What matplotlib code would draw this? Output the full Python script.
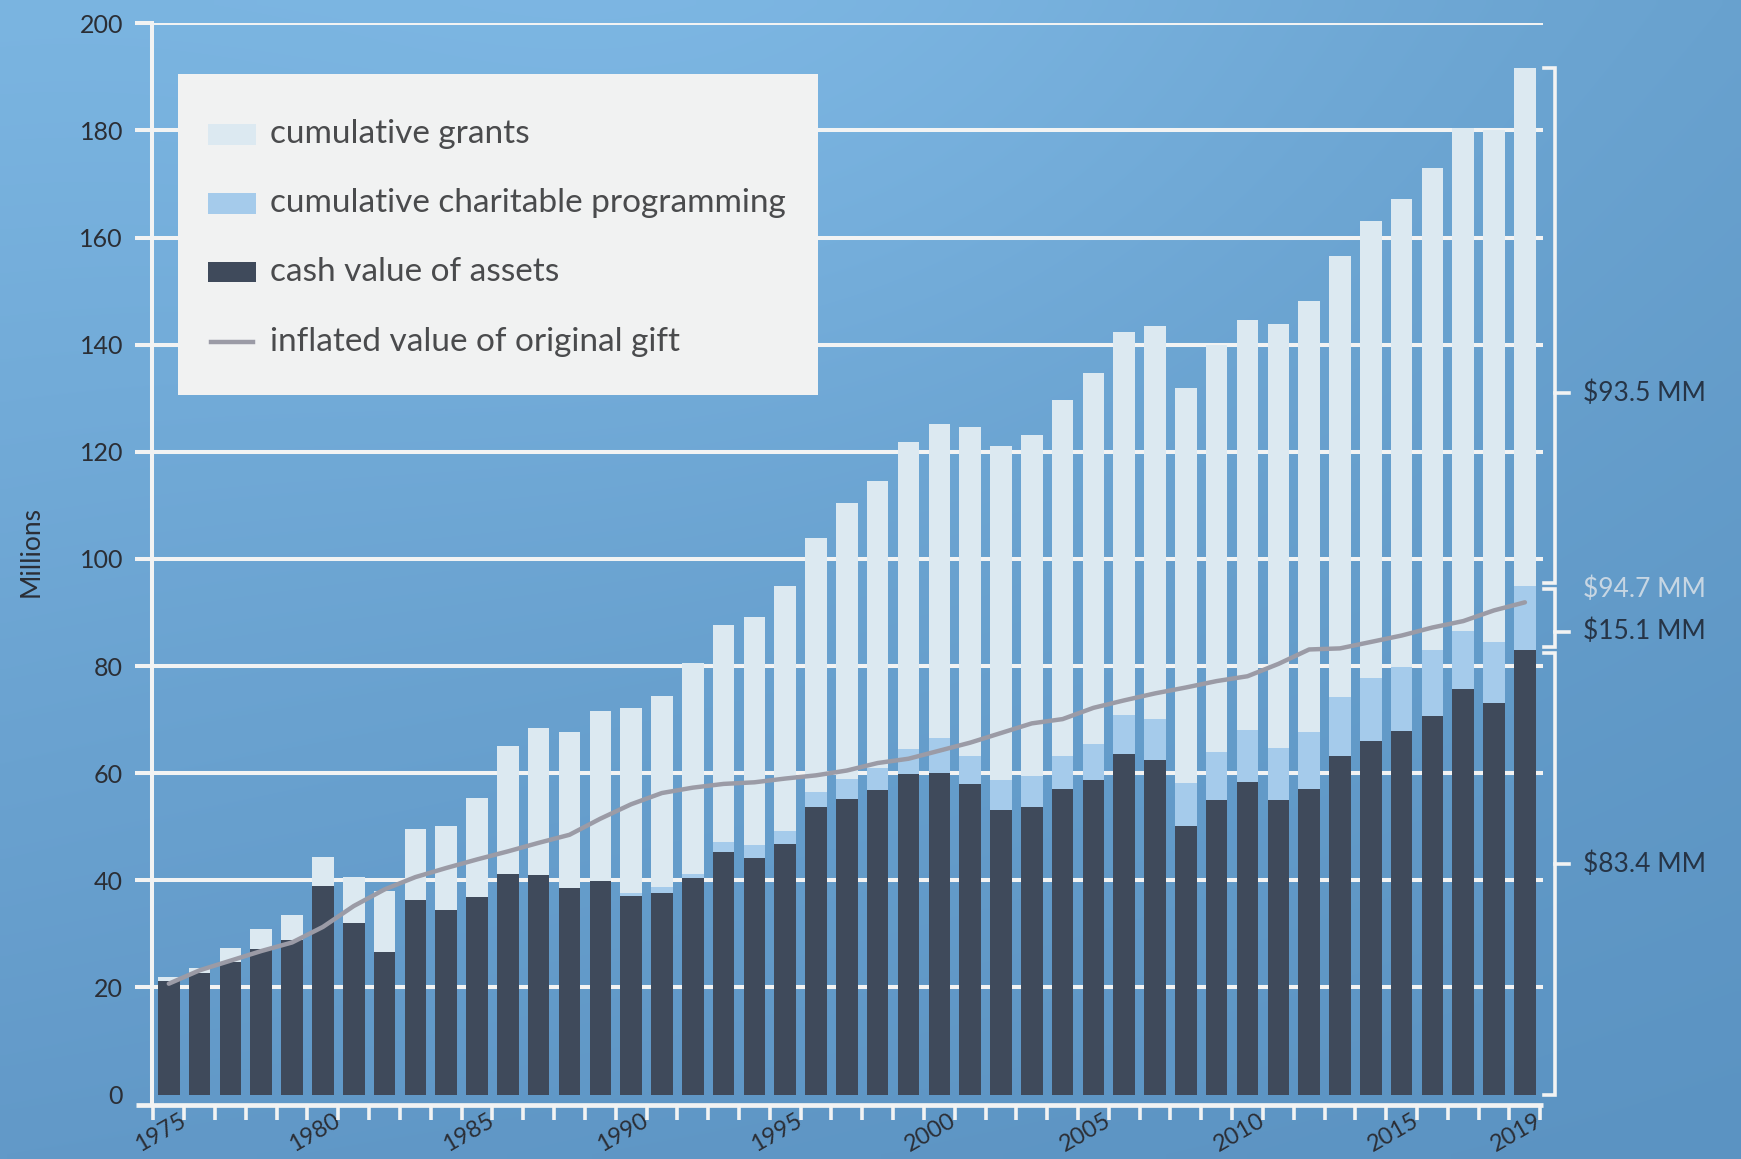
import numpy as np
import matplotlib
matplotlib.use("Agg")
import matplotlib.pyplot as plt
from matplotlib.patches import Rectangle
from matplotlib.lines import Line2D
from matplotlib.transforms import blended_transform_factory

plt.rcParams['font.family'] = ['Lato', 'DejaVu Sans']

# ---------------- data (millions) ----------------
years = list(range(1975, 2020))
cash = [21.2, 22.7, 24.8, 27.2, 28.8, 39.0, 32.1, 26.7, 36.4, 34.5,
        36.9, 41.2, 41.0, 38.5, 39.9, 37.0, 37.7, 40.4, 45.3, 44.2,
        46.8, 53.6, 55.1, 56.9, 59.9, 60.1, 57.9, 53.1, 53.6, 57.1,
        58.7, 63.5, 62.4, 50.1, 55.0, 58.4, 55.0, 57.0, 63.2, 66.1,
        67.9, 70.6, 75.8, 73.1, 83.0]
programming = [0, 0, 0, 0, 0, 0, 0, 0, 0, 0,
               0, 0, 0, 0, 0, 0.6, 1.1, 0.8, 1.8, 2.4,
               2.4, 2.8, 3.8, 4.1, 4.6, 6.4, 5.4, 5.6, 5.8, 6.2,
               6.8, 7.4, 7.8, 8.0, 9.0, 9.6, 9.7, 10.6, 11.1, 11.6,
               11.9, 12.4, 10.8, 11.4, 11.9]
grants = [0.8, 1.0, 2.6, 3.8, 4.8, 5.4, 8.5, 11.4, 13.2, 15.6,
          18.4, 23.9, 27.5, 29.1, 31.8, 34.5, 35.7, 39.4, 40.5, 42.5,
          45.8, 47.5, 51.5, 53.6, 57.3, 58.7, 61.3, 62.4, 63.7, 66.3,
          69.3, 71.4, 73.3, 73.8, 76.0, 76.7, 79.2, 80.6, 82.3, 85.4,
          87.4, 90.0, 93.9, 95.5, 96.8]
inflated_gift = [20.7, 23.2, 25.0, 26.8, 28.4, 31.3, 35.2, 38.3, 40.6, 42.3,
                 43.9, 45.4, 47.0, 48.5, 51.5, 54.2, 56.3, 57.3, 58.0, 58.3,
                 59.0, 59.6, 60.5, 61.9, 62.7, 64.2, 65.7, 67.5, 69.3, 70.1,
                 72.2, 73.6, 74.9, 76.0, 77.2, 78.1, 80.4, 83.1, 83.3, 84.5,
                 85.7, 87.2, 88.4, 90.4, 91.9]
label_years = [1975, 1980, 1985, 1990, 1995, 2000, 2005, 2010, 2015, 2019]
y_ticks = list(range(0, 201, 20))
legend_labels = ["cumulative grants", "cumulative charitable programming",
                 "cash value of assets", "inflated value of original gift"]
bracket_labels = ["$93.5 MM", "$94.7 MM", "$15.1 MM", "$83.4 MM"]

# ---------------- styles ----------------
C_GRANT = '#dce9f1'
C_PROG = '#a5cbeb'
C_CASH = '#3f4a5b'
C_LINE = '#9b9ba6'
C_WHITE = '#f2f3f3'
C_TEXT = '#2b2e35'
C_LEG_TEXT = '#4a4b4d'
C_LIGHT_LABEL = '#c7d6e3'

fig = plt.figure(figsize=(17.41, 11.59), dpi=100)

# background gradient
H, W = 120, 180
uu, vv = np.meshgrid(np.linspace(0, 1, W), np.linspace(0, 1, H))
tl = np.array([121, 179, 223]); tr = np.array([104, 161, 206])
bl = np.array([98, 153, 200]); br = np.array([91, 147, 194])
grad = (tl[None, None] * ((1 - uu) * (1 - vv))[..., None]
        + tr[None, None] * (uu * (1 - vv))[..., None]
        + bl[None, None] * ((1 - uu) * vv)[..., None]
        + br[None, None] * (uu * vv)[..., None])
bump = 10 * np.exp(-((uu - 0.45) ** 2 / 0.12 + vv ** 2 / 0.18))
grad = grad + bump[..., None]
grad = np.clip(grad / 255.0, 0, 1)
bg = fig.add_axes([0, 0, 1, 1], zorder=-10)
bg.imshow(grad, aspect='auto', extent=[0, 1, 0, 1], origin='upper', interpolation='bilinear')
bg.axis('off')

ax = fig.add_axes([0.0874, 0.0468, 0.7991, 0.9331])
ax.set_facecolor('none')

x = np.array(years)
cash_a = np.array(cash)
prog_a = np.array(programming)
grant_a = np.array(grants)
w = 0.70

for v in y_ticks[1:]:
    ax.axhline(v, color=C_WHITE, lw=2.9, zorder=1)

ax.bar(x, cash_a, w, color=C_CASH, zorder=2, linewidth=0)
ax.bar(x, prog_a, w, bottom=cash_a, color=C_PROG, zorder=2, linewidth=0)
ax.bar(x, grant_a, w, bottom=cash_a + prog_a, color=C_GRANT, zorder=2, linewidth=0)
ax.plot(x, inflated_gift, color=C_LINE, lw=3.2, zorder=3,
        solid_capstyle='round', solid_joinstyle='round')

ax.set_xlim(1974.46, 2019.45)
ax.set_ylim(-1.9, 200)

for s in ['top', 'right', 'bottom']:
    ax.spines[s].set_visible(False)
ax.spines['left'].set_color(C_WHITE)
ax.spines['left'].set_linewidth(2.9)

# x axis line (extends a little left of the y axis)
btrans = blended_transform_factory(ax.transAxes, ax.transData)
ax.plot([-0.0118, 1.0], [-1.9, -1.9], transform=btrans, color=C_WHITE,
        lw=3.4, clip_on=False, zorder=4, solid_capstyle='butt')

# y ticks
ax.set_yticks(y_ticks)
ax.set_yticklabels([str(v) for v in y_ticks])
ax.tick_params(axis='y', length=12, width=2.9, color=C_WHITE, pad=9,
               labelsize=18, labelcolor=C_TEXT)
ax.yaxis.get_major_ticks()[0].tick1line.set_visible(False)

# x ticks: boundary ticks (minor) + labels (major, no tick line)
ax.set_xticks(np.arange(1974.5, 2020.0, 1.0), minor=True)
ax.set_xticks(np.array(label_years) + 0.6)
ax.set_xticklabels([str(y) for y in label_years], rotation=30, ha='right',
                   va='baseline', rotation_mode='anchor')
ax.tick_params(axis='x', which='minor', length=11, width=2.6, color=C_WHITE,
               direction='out')
ax.tick_params(axis='x', which='major', length=0, pad=14.3, labelsize=17,
               labelcolor=C_TEXT)

fig.text(0.0179, 0.524, 'Millions', rotation=90, ha='center', va='center',
         fontsize=19, color=C_TEXT)

# ---------------- brackets for 2019 ----------------
c_last = cash_a[-1]
p_top = cash_a[-1] + prog_a[-1]
t_top = p_top + grant_a[-1]
xv = years[-1] + 0.97
xs = years[-1] + 0.62
xt = years[-1] + 1.43
xl = years[-1] + 1.87
gap = 0.6
segs = [(t_top, p_top + gap), (p_top - gap, c_last + gap), (c_last - gap, 0)]
for top, bot in segs:
    ax.plot([xs, xv, xv, xs], [top, top, bot, bot], color=C_WHITE, lw=2.6,
            clip_on=False, zorder=4, solid_joinstyle='miter')
label_y = [131.0, p_top - 0.5, (p_top + c_last) / 2 - 2.5, 43.0]
tick_idx = [0, 2, 3]
for i in tick_idx:
    ax.plot([xv, xt], [label_y[i], label_y[i]], color=C_WHITE, lw=2.6,
            clip_on=False, zorder=4)
for i, (lab, yy) in enumerate(zip(bracket_labels, label_y)):
    col = C_LIGHT_LABEL if i == 1 else '#263446'
    ax.text(xl, yy, lab, ha='left', va='center', fontsize=19, color=col,
            clip_on=False)

# ---------------- legend (drawn as a panel) ----------------
fig.add_artist(Rectangle((0.1020, 0.6589), 0.368, 0.2769, transform=fig.transFigure,
                         facecolor='#f1f2f2', edgecolor='none', zorder=5))
rows = [0.8841, 0.8247, 0.7653, 0.7049]
colors = [C_GRANT, C_PROG, C_CASH]
for i, yrow in enumerate(rows):
    if i < 3:
        fig.add_artist(Rectangle((0.1193, yrow - 0.009), 0.0275, 0.018,
                                 transform=fig.transFigure, facecolor=colors[i],
                                 edgecolor='none', zorder=6))
    else:
        fig.add_artist(Line2D([0.1210, 0.1455], [yrow, yrow], transform=fig.transFigure,
                              color=C_LINE, lw=3.2, zorder=6))
    fig.text(0.155, yrow, legend_labels[i], ha='left', va='center', fontsize=24,
             color=C_LEG_TEXT, zorder=7)

fig.savefig('out.png', dpi=100)
